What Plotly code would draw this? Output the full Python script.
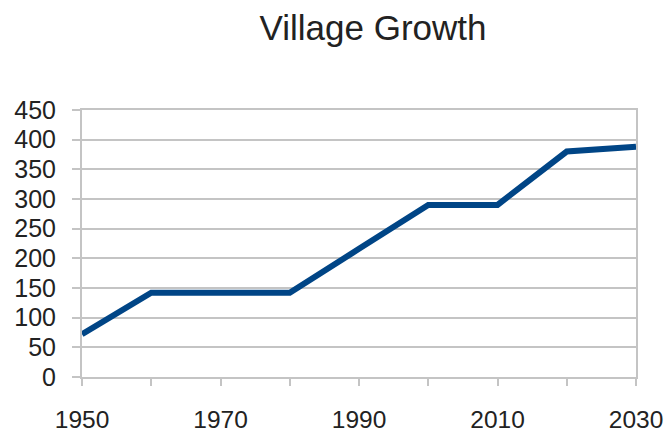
import plotly.graph_objects as go

years = [1950, 1960, 1970, 1980, 1990, 2000, 2010, 2020, 2030]
population = [72, 142, 142, 142, 216, 290, 290, 380, 388]
x_tick_vals = [1950, 1960, 1970, 1980, 1990, 2000, 2010, 2020, 2030]
x_tick_text = ["1950", "", "1970", "", "1990", "", "2010", "", "2030"]
y_tick_vals = [0, 50, 100, 150, 200, 250, 300, 350, 400, 450]

fig = go.Figure()
fig.add_trace(go.Scatter(
    x=years, y=population, mode="lines",
    line=dict(color="#004586", width=6),
    showlegend=False, hoverinfo="skip",
))

W, H = 668, 434
axis_gray = "#c4c4c4"
fig.update_layout(
    width=W, height=H,
    margin=dict(l=82, r=32, t=110, b=57),
    paper_bgcolor="white", plot_bgcolor="white",
    font=dict(family="Liberation Sans, Arial, sans-serif", color="#222222"),
    title=dict(text="Village Growth", font=dict(size=35, color="#222222"),
               x=373 / W, xref="container", xanchor="center",
               y=1 - 28 / H, yref="container", yanchor="middle"),
    xaxis=dict(range=[1950, 2030], tickvals=x_tick_vals, ticktext=x_tick_text,
               showgrid=False, zeroline=False, automargin=False,
               showline=True, linecolor=axis_gray, linewidth=2, mirror=True,
               ticks="outside", ticklen=7, tickwidth=2, tickcolor=axis_gray,
               tickfont=dict(size=24.5, color="#222222"),
               ticklabelstandoff=13),
    yaxis=dict(range=[0, 450], tickvals=y_tick_vals,
               showgrid=True, gridcolor=axis_gray, gridwidth=2, zeroline=False,
               automargin=False,
               showline=True, linecolor=axis_gray, linewidth=2, mirror=True,
               ticks="outside", ticklen=8, tickwidth=2, tickcolor=axis_gray,
               tickfont=dict(size=25, color="#222222"),
               ticklabelstandoff=11),
)

fig.write_html(
    "out.html",
    config={"displayModeBar": False, "staticPlot": True},
    post_script="document.body.style.margin='0';document.body.style.overflow='hidden';",
)
